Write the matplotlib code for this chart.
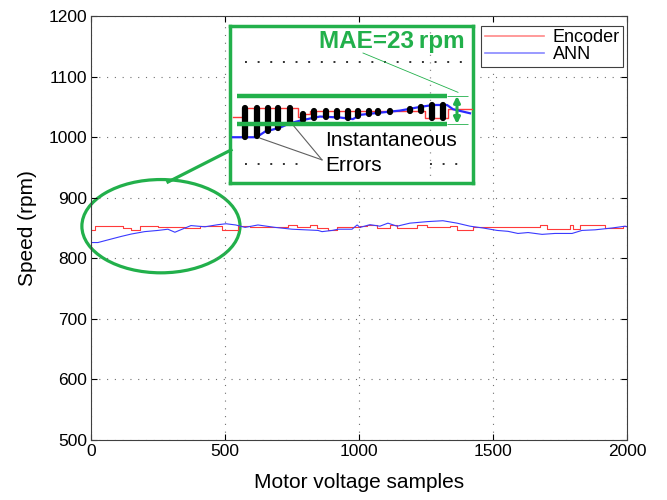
import numpy as np
import matplotlib.pyplot as plt
from matplotlib.patches import Ellipse
from matplotlib.lines import Line2D

plt.rcParams['font.family'] = ['Liberation Sans', 'DejaVu Sans']

GREEN = '#22b04b'

# encoder speed: step changes (sample, rpm)
enc_x = [0, 15, 120, 150, 183, 250, 350, 407, 490, 549, 593, 735, 769, 817, 843,
         884, 918, 985, 1004, 1030, 1067, 1116, 1142, 1216, 1254, 1340, 1366, 1425,
         1507, 1675, 1701, 1787, 1799, 1825, 1918, 1985, 2000]
enc_y = [847, 854, 850, 847, 853, 852, 850, 853, 846.5, 853, 851, 855, 851, 855, 850,
         846.5, 852, 851, 853, 855.5, 850, 855, 850, 855, 852, 853, 847, 852,
         851, 855, 848, 855, 848, 855, 850, 853, 853]

# ANN estimate
ann_x = [0, 26, 60, 112, 150, 200, 250, 287, 313, 340, 373, 425, 474, 504, 540, 575,
         623, 687, 750, 847, 862, 900, 922, 974, 993, 1004, 1041, 1078, 1108, 1142,
         1190, 1254, 1313, 1366, 1414, 1463, 1515, 1556, 1593, 1631, 1683, 1731,
         1795, 1832, 1881, 1944, 1993, 2000]
ann_y = [826, 826, 830, 836, 840, 844, 846, 848, 843, 848, 854, 852, 855.5, 857, 855, 851,
         855, 851, 848, 846, 844, 846, 848, 848, 855, 851, 855.5, 853, 858, 853,
         858, 860.5, 862, 858, 853, 850, 846, 844.5, 841, 842.5, 839.5, 841,
         841, 846, 847, 850, 853, 852]

# zoomed detail of the start-up transient
zoom_enc_x = [3, 13, 68, 73, 80, 195, 218, 243]
zoom_enc_y = [824.6, 831.4, 824.6, 826.8, 829.5, 823.2, 830.6, 830.6]
zoom_ann_x = [3, 25, 30, 35, 50, 60, 73, 90, 110, 123, 130, 150, 170, 190, 203, 217, 223, 240]
zoom_ann_y = [807.6, 807.6, 809.5, 812.2, 815.5, 819.1, 821.8, 824.6, 823.8, 822.5,
              826, 827.8, 829.5, 832.5, 834.1, 834.1, 830.6, 827.3]
err_x = [15, 27, 38, 48, 60, 73, 84, 96, 107, 118, 128, 139, 148, 160, 170, 180, 191, 202, 213]
mae = 23
mae_mid = 830

fig = plt.figure(figsize=(6.67, 5), dpi=100)
ax = fig.add_axes([91/667, 0.12, 536/667, 0.848])

ax.step(enc_x, enc_y, where='post', color='#ff3a3a', lw=0.8, label='Encoder')
ax.plot(ann_x, ann_y, color='#3a3aff', lw=0.8, label='ANN')

ax.set_xlim(0, 2000)
ax.set_ylim(500, 1200)
ax.set_xticks([0, 500, 1000, 1500, 2000])
ax.set_yticks(range(500, 1201, 100))
ax.grid(True, color='#707070', lw=0.8, dashes=(1, 6))
ax.tick_params(direction='in', length=4, top=True, right=True, labelsize=12.5, pad=3)
for s in ax.spines.values():
    s.set_color('#404040')
    s.set_linewidth(0.8)
ax.set_xlabel('Motor voltage samples', fontsize=15, labelpad=10)
ax.set_ylabel('Speed (rpm)', fontsize=15, labelpad=8)

leg = ax.legend(loc='upper right', bbox_to_anchor=(0.993, 0.977), fontsize=13,
                frameon=True, fancybox=False, edgecolor='#404040', framealpha=1,
                borderpad=0.2, labelspacing=0.0, handlelength=3.3, handletextpad=0.45,
                borderaxespad=0)
leg.get_frame().set_linewidth(0.8)
for h in leg.get_lines():
    h.set_linewidth(1.2)
    h.set_alpha(0.6)

ax.add_patch(Ellipse((261, 853), 590, 154, fill=False, ec=GREEN, lw=2.3, clip_on=False))
fig.add_artist(Line2D([168/667, 231/667], [1-182/500, 1-150/500], color=GREEN, lw=2.3))

# inset
ins = fig.add_axes([230/667, 1-183/500, 243/667, 157/500])
ins.set_xlim(0, 243)
ins.set_ylim(770, 899)
ins.set_xticks([])
ins.set_yticks([])
for s in ins.spines.values():
    s.set_color(GREEN)
    s.set_linewidth(2.5)
dots = (0, (1, 5.5))
ins.hlines(869.4, 15, 236, color='#303030', lw=1.4, linestyle=dots)
ins.hlines(785.7, 15, 72, color='#303030', lw=1.4, linestyle=dots)
ins.hlines(785.7, 200, 236, color='#303030', lw=1.4, linestyle=dots)
ins.axvline(200, color='#909090', lw=0.9, dashes=(1, 5))

ins.step(zoom_enc_x, zoom_enc_y, where='post', color='#ff3a3a', lw=1.0, zorder=3)
ins.plot(zoom_ann_x, zoom_ann_y, color='#2a2aff', lw=1.6, zorder=3)

idx = np.searchsorted(zoom_enc_x, err_x, side='right') - 1
err_enc = np.array(zoom_enc_y)[idx]
err_ann = np.interp(err_x, zoom_ann_x, zoom_ann_y)
ins.vlines(err_x, err_enc, err_ann, color='black', lw=4.5, capstyle='round', zorder=4)

lo, hi = mae_mid - mae / 2, mae_mid + mae / 2
ins.hlines([lo, hi], 7, 217, color=GREEN, lw=3.2, zorder=5)
ins.hlines([lo, hi], 217, 238, color=GREEN, lw=0.6, zorder=5)
ins.annotate('', xy=(227, hi), xytext=(227, lo),
             arrowprops=dict(arrowstyle='<|-|>', color=GREEN, lw=2.2, mutation_scale=9,
                             shrinkA=0, shrinkB=0), zorder=6)
ins.plot([133, 228], [876.8, hi + 3], color=GREEN, lw=0.6)
ins.text(89, 886, 'MAE=23\u2009rpm', color=GREEN, fontsize=17.5, fontweight='bold',
         va='center', ha='left')

ins.text(95, 804.6, 'Instantaneous', fontsize=15, va='center', ha='left', zorder=6)
ins.text(95, 784, 'Errors', fontsize=15, va='center', ha='left', zorder=6)
for bx in [27, 60]:
    by = np.interp(bx, zoom_ann_x, zoom_ann_y)
    ins.plot([bx + 3, 92], [by - 1.5, 789], color='#606060', lw=0.8, zorder=2)

fig.savefig('out.png', dpi=100)
